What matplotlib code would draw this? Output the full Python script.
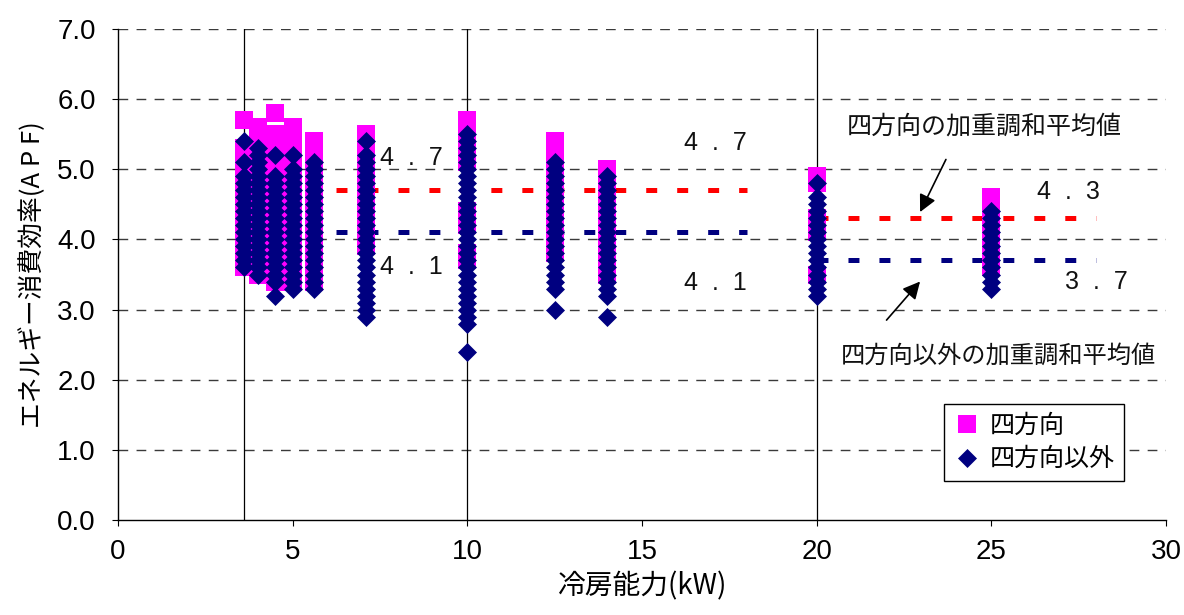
import matplotlib
matplotlib.use("Agg")
import matplotlib.pyplot as plt

plt.rcParams['font.family'] = ['Liberation Sans', 'Noto Sans CJK JP']
plt.rcParams['lines.scale_dashes'] = False

JP = ['Noto Sans CJK JP', 'DejaVu Sans']

# ---- data ----
capacities = [3.6, 4.0, 4.5, 5.0, 5.6, 7.1, 10.0, 12.5, 14.0, 20.0, 25.0]

four_way_apf = [
    [5.7, 5.3, 5.2, 5.1, 5.0, 4.9, 4.8, 4.7, 4.6, 4.5, 4.4, 4.3, 4.2, 4.1, 4.0, 3.9, 3.8, 3.7, 3.6],
    [5.6, 5.5, 5.4, 5.3, 5.2, 5.1, 5.0, 4.9, 4.8, 4.7, 4.6, 4.5, 4.4, 4.3, 4.2, 4.1, 4.0, 3.9, 3.8, 3.7, 3.6, 3.5],
    [5.8, 5.5, 5.4, 5.3, 5.2, 5.1, 5.0, 4.9, 4.8, 4.7, 4.6, 4.5, 4.4, 4.3, 4.2, 4.1, 4.0, 3.9, 3.8, 3.7, 3.6, 3.5, 3.4],
    [5.6, 5.5, 5.4, 5.3, 5.2, 5.1, 5.0, 4.9, 4.8, 4.7, 4.6, 4.5, 4.4, 4.3, 4.2, 4.1, 4.0, 3.9, 3.8, 3.7, 3.6, 3.5, 3.4],
    [5.4, 5.3, 5.2, 5.1, 5.0, 4.9, 4.8, 4.7, 4.6, 4.5, 4.4, 4.3, 4.2, 4.1, 4.0, 3.9, 3.8, 3.7, 3.6, 3.5, 3.4],
    [5.5, 5.4, 5.3, 5.2, 5.1, 5.0, 4.9, 4.8, 4.7, 4.6, 4.5, 4.4, 4.3, 4.2, 4.1, 4.0, 3.9],
    [5.7, 5.6, 5.5, 5.4, 5.3, 5.2, 5.1, 4.4, 4.3, 4.2, 3.8, 3.7],
    [5.4, 5.3, 5.2, 5.1, 5.0, 4.9, 4.8, 4.7, 4.6, 4.5, 4.4, 4.3, 4.2, 4.1, 4.0, 3.9, 3.8],
    [5.0, 4.9, 4.8, 4.7, 4.6, 4.5, 4.4, 4.3, 4.2, 4.1, 4.0, 3.9, 3.8, 3.7, 3.6, 3.5],
    [4.9, 4.8, 4.3, 4.2, 4.1, 3.5],
    [4.6, 4.5, 4.4, 4.3, 4.2, 4.1, 4.0, 3.9, 3.8, 3.7, 3.6],
]

other_apf = [
    [5.4, 5.1, 4.9, 4.8, 4.7, 4.6, 4.5, 4.4, 4.3, 4.2, 4.1, 4.0, 3.9, 3.8, 3.7, 3.6],
    [5.3, 5.2, 5.1, 5.0, 4.9, 4.8, 4.7, 4.6, 4.5, 4.4, 4.3, 4.2, 4.1, 4.0, 3.9, 3.8, 3.7, 3.6, 3.5],
    [5.2, 4.9, 4.8, 4.7, 4.6, 4.5, 4.4, 4.3, 4.2, 4.1, 4.0, 3.9, 3.8, 3.7, 3.6, 3.5, 3.4, 3.2],
    [5.2, 5.0, 4.9, 4.8, 4.7, 4.6, 4.5, 4.4, 4.3, 4.2, 4.1, 4.0, 3.9, 3.8, 3.7, 3.6, 3.5, 3.4, 3.3],
    [5.1, 5.0, 4.9, 4.8, 4.7, 4.6, 4.5, 4.4, 4.3, 4.2, 4.1, 4.0, 3.9, 3.8, 3.7, 3.6, 3.5, 3.4, 3.3],
    [5.4, 5.2, 5.1, 5.0, 4.9, 4.8, 4.7, 4.6, 4.5, 4.4, 4.3, 4.2, 4.1, 4.0, 3.9, 3.8, 3.7, 3.6, 3.5, 3.4, 3.3, 3.2, 3.1, 3.0, 2.9],
    [5.5, 5.4, 5.3, 5.2, 5.1, 5.0, 4.9, 4.8, 4.7, 4.6, 4.5, 4.4, 4.3, 4.2, 4.1, 4.0, 3.9, 3.8, 3.7, 3.6, 3.5, 3.4, 3.3, 3.2, 3.1, 3.0, 2.9, 2.8, 2.4],
    [5.1, 5.0, 4.9, 4.8, 4.7, 4.6, 4.5, 4.4, 4.3, 4.2, 4.1, 4.0, 3.9, 3.8, 3.7, 3.6, 3.5, 3.4, 3.3, 3.0],
    [4.9, 4.8, 4.7, 4.6, 4.5, 4.4, 4.3, 4.2, 4.1, 4.0, 3.9, 3.8, 3.7, 3.6, 3.5, 3.4, 3.3, 3.2, 2.9],
    [4.8, 4.6, 4.5, 4.4, 4.3, 4.2, 4.1, 4.0, 3.9, 3.8, 3.7, 3.6, 3.5, 3.4, 3.3, 3.2],
    [4.4, 4.3, 4.2, 4.1, 4.0, 3.9, 3.8, 3.7, 3.6, 3.5, 3.4, 3.3],
]

# weighted harmonic means per capacity range
mean_ranges = [(6.25, 18.0), (20.0, 28.0)]
four_way_mean = [4.7, 4.3]
other_mean = [4.1, 3.7]
mean_labels_fw = ['4  .  7', '4  .  3']
mean_labels_ow = ['4  .  1', '3  .  7']

separator_x = [3.6, 10.0, 20.0]

series_labels = ['四方向', '四方向以外']
note_fw = '四方向の加重調和平均値'
note_ow = '四方向以外の加重調和平均値'

# ---- figure ----
fig = plt.figure(figsize=(11.84, 6.15), dpi=100)
ax = fig.add_axes([118/1184, 1-520/615, (1166-118)/1184, (520-29)/615])

ax.set_xlim(0, 30)
ax.set_ylim(0, 7)
ax.set_xticks(range(0, 31, 5))
ax.set_yticks([i for i in range(8)])
ax.set_yticklabels([f'{v:.1f}' for v in range(8)])

for y in range(1, 8):
    ax.axhline(y, color='#3a3a3a', lw=1.0, dashes=(7, 6), zorder=0)
for x in separator_x:
    ax.axvline(x, color='black', lw=0.9, zorder=1)

for (x0, x1), m1, m2 in zip(mean_ranges, four_way_mean, other_mean):
    ax.plot([x0, x1], [m1, m1], color='#ff0000', lw=3.6, dashes=(7.9, 14.4),
            solid_capstyle='butt', dash_capstyle='butt', zorder=2)
    ax.plot([x0, x1], [m2, m2], color='#000080', lw=3.6, dashes=(7.9, 14.4),
            solid_capstyle='butt', dash_capstyle='butt', zorder=2)

fx, fy, ox, oy = [], [], [], []
for c, vals in zip(capacities, four_way_apf):
    fx += [c] * len(vals)
    fy += vals
for c, vals in zip(capacities, other_apf):
    ox += [c] * len(vals)
    oy += vals

ax.plot(fx, fy, ls='none', marker='s', ms=13.5, mfc='#ff00ff', mec='#ff00ff',
        mew=0, label=series_labels[0], zorder=3)
ax.plot(ox, oy, ls='none', marker='D', ms=9.3, mfc='#000080', mec='#000080',
        mew=0.5, label=series_labels[1], zorder=4)

# value labels
lab_kw = dict(fontsize=18, ha='center', va='center', color='#111111')
ax.text(8.4, 5.16, mean_labels_fw[0], **lab_kw)
ax.text(8.4, 3.60, mean_labels_ow[0], **lab_kw)
ax.text(17.1, 5.38, mean_labels_fw[0], **lab_kw)
ax.text(17.1, 3.38, mean_labels_ow[0], **lab_kw)
ax.text(27.2, 4.68, mean_labels_fw[1], **lab_kw)
ax.text(28.0, 3.40, mean_labels_ow[1], **lab_kw)

# annotations
ax.text(24.8, 5.61, note_fw, family=JP, fontsize=18, ha='center', va='center',
        color='#111111')
ax.text(25.2, 2.35, note_ow, family=JP, fontsize=17.5, ha='center', va='center',
        color='#111111')
arrow_kw = dict(arrowstyle='-|>', color='black', lw=1.2, mutation_scale=26,
                shrinkA=0, shrinkB=0)
ax.annotate('', xy=(22.96, 4.39), xytext=(23.7, 5.14), arrowprops=arrow_kw)
ax.annotate('', xy=(22.96, 3.40), xytext=(22.0, 2.85), arrowprops=arrow_kw)

# axes styling
for s in ['top', 'right']:
    ax.spines[s].set_visible(False)
for s in ['left', 'bottom']:
    ax.spines[s].set_color('black')
    ax.spines[s].set_linewidth(1.0)
ax.tick_params(axis='both', labelsize=20, length=4, direction='out', colors='black')
ax.tick_params(axis='y', pad=12)
ax.tick_params(axis='x', pad=10)

ax.set_xlabel('冷房能力(kW)', family=JP, fontsize=20, labelpad=4)
ax.set_ylabel('エネルギー消費効率(A P F)', family=JP, fontsize=18.5, labelpad=8)

leg = ax.legend(loc='lower right', bbox_to_anchor=((1124-118)/1048, (520-481)/491),
                prop={'family': JP, 'size': 18}, frameon=True, fancybox=False,
                edgecolor='black', framealpha=1, borderpad=0.35, labelspacing=0.3,
                handlelength=1.1, handletextpad=0.4, borderaxespad=0)
leg.get_frame().set_linewidth(1.0)

fig.savefig('out.png', dpi=100)
